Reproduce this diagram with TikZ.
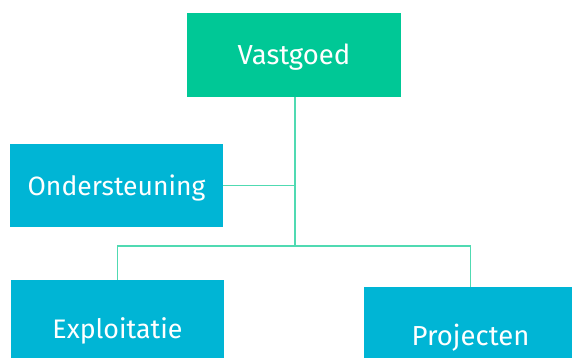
\documentclass[tikz,border=0pt]{standalone}
\usepackage{fontspec}
\setmainfont{Fira Sans}
\usepackage{tikz}
\usetikzlibrary{positioning}
\definecolor{vgreen}{RGB}{0,200,150}
\definecolor{vblue}{RGB}{0,181,213}
\definecolor{vline}{RGB}{80,218,178}
\tikzset{font=\fontsize{27.5}{32}\selectfont}
\tikzset{box/.style={rectangle, fill=vblue, text=white, minimum width=213pt, minimum height=84pt, inner sep=0pt, text height=24pt, text depth=5pt}}
\tikzset{topbox/.style={box, fill=vgreen, minimum width=214pt}}
\tikzset{link/.style={draw=vline, line width=1.1pt}}

\begin{document}
\begin{tikzpicture}[x=1pt,y=-1pt]
\clip (0,0) rectangle (572,358);
\fill[white] (0,0) rectangle (572,358);
\node[topbox] (vast) at (294,55) {Vastgoed};
\node[box, minimum height=83pt, font=\fontsize{26.5}{32}\selectfont] (onder) at (116.5,185.5) {Ondersteuning};
\node[box, minimum height=97pt, font=\fontsize{26.8}{32}\selectfont] (expl) at (117.5,328.5) {Exploitatie};
\node[box, minimum height=97pt] (proj) at (470.5,335.5) {Projecten};
\coordinate (bus) at (295,246);
% trunk and branches
\draw[link] (vast.south -| bus) -- (bus);
\draw[link] (onder.east) -- (onder.east -| bus);
\draw[link] (expl.north) |- (bus) -| (proj.north);
\end{tikzpicture}
\end{document}
